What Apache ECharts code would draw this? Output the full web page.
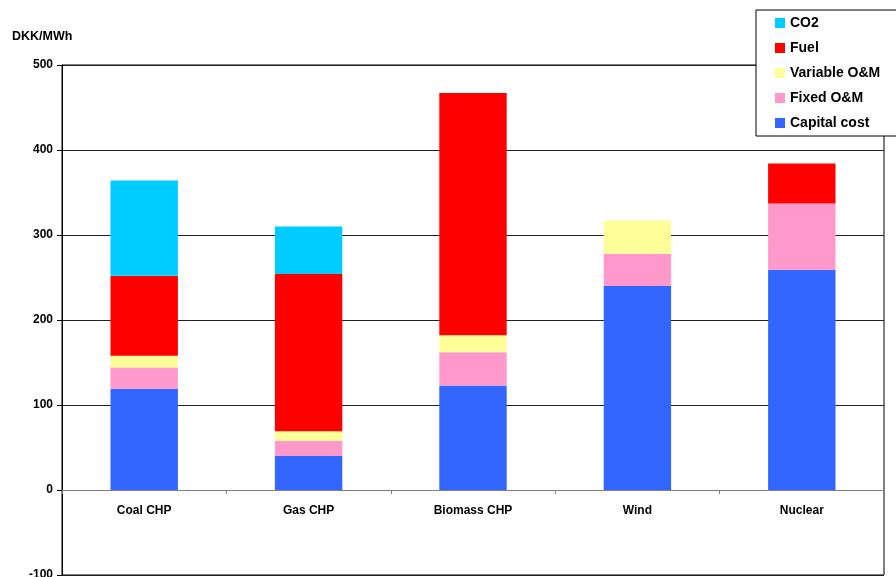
<!DOCTYPE html>
<html>
<head>
<meta charset="utf-8">
<script src="https://cdn.jsdelivr.net/npm/echarts@6/dist/echarts.min.js"></script>
<style>
html,body{margin:0;padding:0;background:#fff;}
#chart{width:896px;height:577px;}
</style>
</head>
<body>
<div id="chart"></div>
<script>
const categories = ['Coal CHP', 'Gas CHP', 'Biomass CHP', 'Wind', 'Nuclear'];
const capitalCost = [119, 40, 123, 240, 259];
const fixedOM = [25, 18, 39, 38, 78];
const variableOM = [14, 11, 20, 39, 0];
const fuel = [94, 185, 285, 0, 47];
const co2 = [112, 56, 0, 0, 0];
const yTicks = [-100, 0, 100, 200, 300, 400, 500];
const unitLabel = 'DKK/MWh';

const FONT = '"Liberation Sans", Arial, sans-serif';
const chart = echarts.init(document.getElementById('chart'), null, {renderer: 'canvas'});

function bar(name, data, color) {
  return {
    name: name,
    type: 'bar',
    stack: 'total',
    data: data,
    barWidth: '41%',
    itemStyle: {color: color},
    emphasis: {disabled: true}
  };
}

chart.setOption({
  animation: false,
  backgroundColor: '#fff',
  textStyle: {fontFamily: FONT},
  grid: {
    left: 62, right: 12, top: 65, bottom: 2,
    containLabel: false, outerBoundsMode: 'none',
    show: true, borderColor: '#000', borderWidth: 1, backgroundColor: 'transparent'
  },
  graphic: [{
    type: 'text', left: 12, top: 30,
    style: {text: unitLabel, font: 'bold 12.5px ' + FONT, fill: '#000'}
  }],
  legend: {
    orient: 'vertical',
    left: 756, top: 10,
    icon: 'rect',
    itemWidth: 10, itemHeight: 10, itemGap: 11,
    padding: [6, 19, 6, 19],
    backgroundColor: '#fff',
    borderColor: '#000', borderWidth: 1,
    textStyle: {fontFamily: FONT, fontWeight: 'bold', fontSize: 14, color: '#000', lineHeight: 14},
    data: ['CO2', 'Fuel', 'Variable O&M', 'Fixed O&M', 'Capital cost']
  },
  xAxis: {
    type: 'category',
    data: categories,
    axisLine: {onZero: true, lineStyle: {color: '#808080', width: 1}},
    axisTick: {show: true, inside: false, length: 4, alignWithLabel: false, lineStyle: {color: '#808080'}},
    axisLabel: {fontFamily: FONT, fontWeight: 'bold', fontSize: 12, color: '#000', margin: -70}
  },
  yAxis: {
    type: 'value',
    min: yTicks[0], max: yTicks[yTicks.length - 1], interval: 100,
    axisLine: {show: true, lineStyle: {color: '#000', width: 1}},
    axisTick: {show: true, length: 5, lineStyle: {color: '#000'}},
    axisLabel: {fontFamily: FONT, fontWeight: 'bold', fontSize: 12, color: '#000', margin: 9},
    splitLine: {show: true, lineStyle: {color: '#222', width: 1}}
  },
  series: [
    bar('Capital cost', capitalCost, '#3366FF'),
    bar('Fixed O&M', fixedOM, '#FF99CC'),
    bar('Variable O&M', variableOM, '#FFFF99'),
    bar('Fuel', fuel, '#FF0000'),
    bar('CO2', co2, '#00CCFF')
  ]
});
</script>
</body>
</html>
